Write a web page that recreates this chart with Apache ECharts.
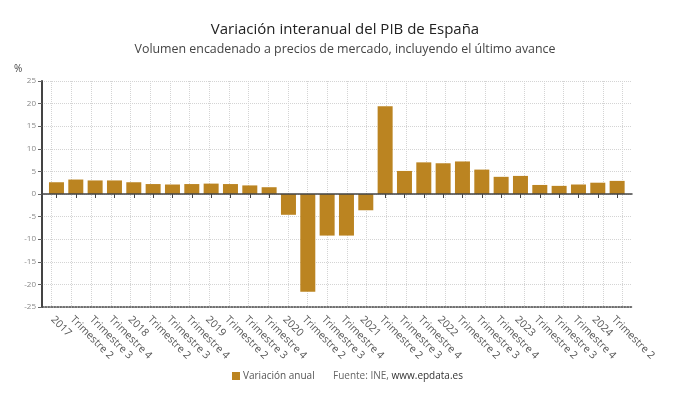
<!DOCTYPE html>
<html><head><meta charset="utf-8">
<script src="https://cdn.jsdelivr.net/npm/echarts@6/dist/echarts.min.js"></script>
<style>html,body{margin:0;padding:0;background:#fff}#c{width:690px;height:405px}</style>
</head><body><div id="c"></div>
<script>
const categories = ['2017','Trimestre 2','Trimestre 3','Trimestre 4','2018','Trimestre 2','Trimestre 3','Trimestre 4','2019','Trimestre 2','Trimestre 3','Trimestre 4','2020','Trimestre 2','Trimestre 3','Trimestre 4','2021','Trimestre 2','Trimestre 3','Trimestre 4','2022','Trimestre 2','Trimestre 3','Trimestre 4','2023','Trimestre 2','Trimestre 3','Trimestre 4','2024','Trimestre 2'];
const variacionAnual = [2.6,3.2,3.0,3.0,2.6,2.2,2.1,2.2,2.3,2.2,1.9,1.5,-4.6,-21.6,-9.2,-9.2,-3.6,19.4,5.1,7.0,6.8,7.2,5.4,3.8,4.0,2.0,1.8,2.1,2.5,2.9];
const yTicks = {min:-25, max:25, interval:5};

const font = 'Open Sans';
const chart = echarts.init(document.getElementById('c'), null, {renderer:'canvas'});
const g = {top:81, bottom:98};
const hidden = {show:false};
chart.setOption({
  backgroundColor:'#fff',
  textStyle:{fontFamily:font},
  title:{
    text:'Variación interanual del PIB de España',
    subtext:'Volumen encadenado a precios de mercado, incluyendo el último avance',
    left:'center', top:17, itemGap:6,
    textStyle:{fontFamily:font, fontSize:15, fontWeight:'normal', color:'#222'},
    subtextStyle:{fontFamily:font, fontSize:12.4, color:'#444'}
  },
  legend:{
    data:['Variación anual'], left:232, top:371, padding:0, itemWidth:8, itemHeight:8, itemGap:4, icon:'rect',
    textStyle:{fontFamily:font, fontSize:10, color:'#555', padding:[0,0,0,-2]}
  },
  graphic:[
    {type:'text', left:14, top:64, style:{text:'%', font:'10px "Open Sans"', fill:'#444'}},
    {type:'text', left:333, top:371, style:{
      rich:{a:{fontFamily:font, fontSize:10, fill:'#666'}, b:{fontFamily:font, fontSize:10, fill:'#333'}},
      text:'{a|Fuente: INE, }{b|www.epdata.es}'}}
  ],
  grid:[
    {left:42, right:58, top:g.top, bottom:g.bottom},
    {left:42, right:58, top:g.top, bottom:g.bottom},
    {left:51.7, right:67.3, top:g.top, bottom:g.bottom},
    {left:46.8, right:63.2, top:g.top, bottom:g.bottom}
  ],
  xAxis:[
    {gridIndex:0, type:'value', min:0, max:1, axisLabel:hidden, axisTick:hidden, splitLine:hidden,
     axisLine:{show:true, onZero:false, lineStyle:{color:'#444', type:'dotted', width:1.5}}},
    {gridIndex:1, type:'value', min:0, max:1, axisLabel:hidden, axisTick:hidden, splitLine:hidden, z:5,
     axisLine:{show:true, onZero:true, lineStyle:{color:'#444', width:1.5}}},
    {gridIndex:2, type:'value', min:0, max:29, interval:1, axisLabel:hidden, axisTick:hidden, axisLine:hidden,
     splitLine:{show:true, lineStyle:{color:'#d4d4d4', type:'dotted'}}},
    {gridIndex:3, type:'category', data:categories, axisLine:hidden,
     axisTick:{show:true, alignWithLabel:true, length:4, lineStyle:{color:'#444'}},
     axisLabel:{interval:0, rotate:-45, color:'#555', fontSize:10.5, fontFamily:font, margin:7, align:'left', verticalAlign:'top'}}
  ],
  yAxis:[
    {gridIndex:0, type:'value', min:yTicks.min, max:yTicks.max, interval:yTicks.interval,
     axisLine:{show:true, lineStyle:{color:'#444', width:2}},
     axisTick:{show:true, length:4, lineStyle:{color:'#666'}},
     axisLabel:{color:'#888', fontSize:8, fontFamily:font, margin:6},
     splitLine:{show:true, lineStyle:{color:'#d4d4d4', type:'dotted'}}},
    {gridIndex:1, type:'value', min:yTicks.min, max:yTicks.max, show:false, splitLine:hidden},
    {gridIndex:2, type:'value', min:yTicks.min, max:yTicks.max, show:false, splitLine:hidden},
    {gridIndex:3, type:'value', min:yTicks.min, max:yTicks.max, show:false, splitLine:hidden}
  ],
  series:[
    {name:'Variación anual', type:'bar', xAxisIndex:3, yAxisIndex:3, data:variacionAnual,
     barWidth:15, itemStyle:{color:'#BB8421'}, silent:true, animation:false}
  ],
  animation:false
});
</script></body></html>
